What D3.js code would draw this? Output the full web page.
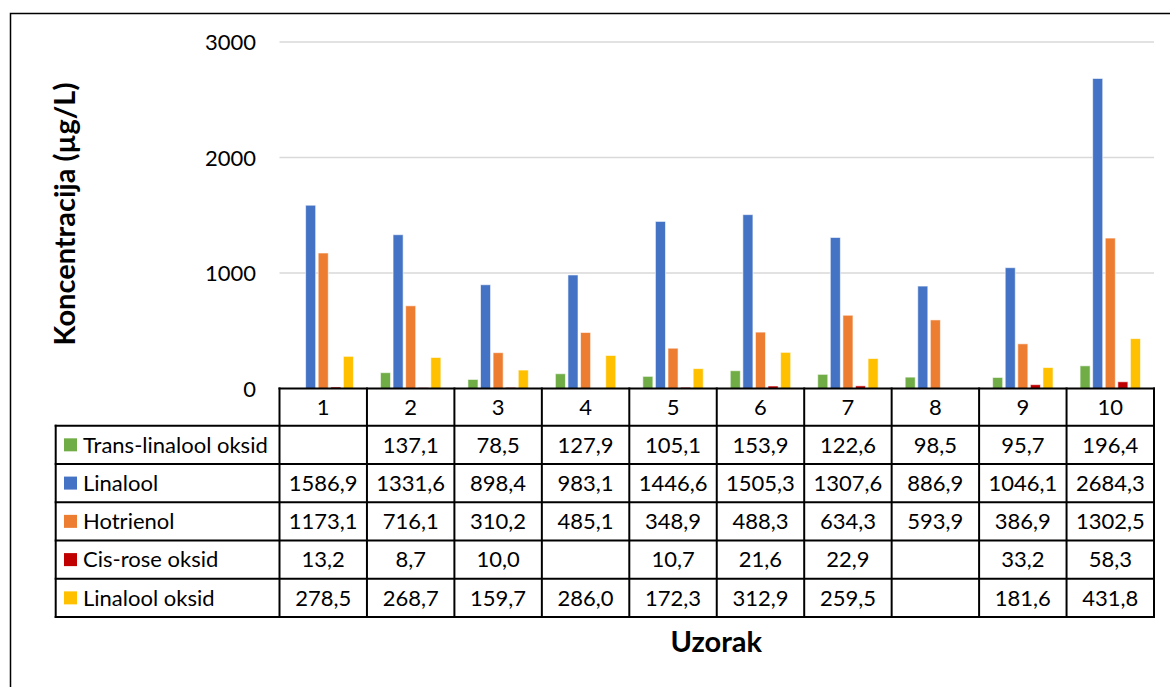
<!DOCTYPE html>
<html>
<head>
<meta charset="utf-8">
<script src="https://cdn.jsdelivr.net/npm/d3@7"></script>
<style>
  body { margin: 0; background: #fff; }
  svg { display: block; font-family: Lato, "Open Sans", sans-serif; }
</style>
</head>
<body>
<script>
// uzorci (kategorije)
var samples = ["1", "2", "3", "4", "5", "6", "7", "8", "9", "10"];
var seriesNames = ["Trans-linalool oksid", "Linalool", "Hotrienol", "Cis-rose oksid", "Linalool oksid"];
var seriesColors = ["#70AD47", "#4472C4", "#ED7D31", "#C00000", "#FFC000"];

var transLinaloolOksid = [null, 137.1, 78.5, 127.9, 105.1, 153.9, 122.6, 98.5, 95.7, 196.4];
var linalool = [1586.9, 1331.6, 898.4, 983.1, 1446.6, 1505.3, 1307.6, 886.9, 1046.1, 2684.3];
var hotrienol = [1173.1, 716.1, 310.2, 485.1, 348.9, 488.3, 634.3, 593.9, 386.9, 1302.5];
var cisRoseOksid = [13.2, 8.7, 10.0, null, 10.7, 21.6, 22.9, null, 33.2, 58.3];
var linaloolOksid = [278.5, 268.7, 159.7, 286.0, 172.3, 312.9, 259.5, null, 181.6, 431.8];

var yTicks = [0, 1000, 2000, 3000];

var seriesValues = [transLinaloolOksid, linalool, hotrienol, cisRoseOksid, linaloolOksid];

var width = 1170, height = 687;
var plotLeft = 279.5, plotRight = 1154, plotTop = 42, plotBottom = 388.5;
var tableLeft = 55.7, headerH = 37.2, rowH = 38.26;
var fontSize = 22;

var svg = d3.select("body").append("svg")
  .attr("width", width)
  .attr("height", height);

// okvir
svg.append("rect")
  .attr("x", 10.5).attr("y", 13.5)
  .attr("width", 1200).attr("height", 700)
  .attr("fill", "none").attr("stroke", "#000").attr("stroke-width", 1.5);

var x = d3.scaleBand().domain(samples).range([plotLeft, plotRight]);
var xInner = d3.scaleBand().domain(seriesNames).range([11, x.bandwidth() - 11]).padding(0.2);
var y = d3.scaleLinear().domain([0, 3000]).range([plotBottom, plotTop]);

// mreza
svg.append("g").selectAll("line")
  .data(yTicks.filter(function(d) { return d > 0; }))
  .enter().append("line")
  .attr("x1", plotLeft).attr("x2", plotRight)
  .attr("y1", function(d) { return y(d); })
  .attr("y2", function(d) { return y(d); })
  .attr("stroke", "#d9d9d9").attr("stroke-width", 1.5);

// y os
var yAxis = svg.append("g")
  .attr("transform", "translate(" + 256 + ",0)")
  .call(d3.axisLeft(y).tickValues(yTicks).tickFormat(d3.format("d")).tickSize(0).tickPadding(0));
yAxis.select(".domain").remove();
yAxis.selectAll("text")
  .attr("font-family", "Lato, sans-serif")
  .attr("font-size", fontSize)
  .attr("fill", "#000")
  .attr("dy", "0.35em");

// stupci
var bars = [];
seriesValues.forEach(function(vals, si) {
  vals.forEach(function(v, i) {
    if (v != null) bars.push({ s: seriesNames[si], c: seriesColors[si], cat: samples[i], v: v });
  });
});

svg.append("g").selectAll("rect")
  .data(bars)
  .enter().append("rect")
  .attr("x", function(d) { return x(d.cat) + xInner(d.s); })
  .attr("y", function(d) { return y(d.v); })
  .attr("width", xInner.bandwidth())
  .attr("height", function(d) { return y(0) - y(d.v); })
  .attr("fill", function(d) { return d.c; })
  .attr("stroke", "#fff").attr("stroke-opacity", 0.6).attr("stroke-width", 1);

// tablica podataka
var table = svg.append("g");
var tableBottom = plotBottom + headerH + rowH * seriesNames.length;

// zaglavlje
table.selectAll(".hdr")
  .data(samples)
  .enter().append("text")
  .attr("x", function(d) { return x(d) + x.bandwidth() / 2; })
  .attr("y", plotBottom + headerH / 2)
  .attr("dy", "0.35em")
  .attr("text-anchor", "middle")
  .attr("font-size", fontSize)
  .text(function(d) { return d; });

var fmt = function(v) { return v == null ? "" : v.toFixed(1).replace(".", ","); };

seriesNames.forEach(function(name, si) {
  var rowY = plotBottom + headerH + rowH * si;
  var cy = rowY + rowH / 2;
  table.append("rect")
    .attr("x", 64).attr("y", cy - 6.5)
    .attr("width", 13).attr("height", 13)
    .attr("fill", seriesColors[si]);
  table.append("text")
    .attr("x", 83).attr("y", cy).attr("dy", "0.35em")
    .attr("font-size", fontSize)
    .text(name);
  table.selectAll(".v" + si)
    .data(seriesValues[si])
    .enter().append("text")
    .attr("x", function(d, i) { return x(samples[i]) + x.bandwidth() / 2; })
    .attr("y", cy).attr("dy", "0.35em")
    .attr("text-anchor", "middle")
    .attr("font-size", fontSize)
    .text(fmt);
});

// linije tablice
var lines = [];
lines.push([plotLeft, plotBottom, plotRight, plotBottom]);
for (var r = 0; r <= seriesNames.length; r++) {
  var ly = plotBottom + headerH + rowH * r;
  lines.push([tableLeft, ly, plotRight, ly]);
}
lines.push([tableLeft, plotBottom + headerH, tableLeft, tableBottom]);
samples.forEach(function(d) { lines.push([x(d), plotBottom, x(d), tableBottom]); });
lines.push([plotRight, plotBottom, plotRight, tableBottom]);

table.selectAll("line")
  .data(lines)
  .enter().append("line")
  .attr("x1", function(d) { return d[0]; })
  .attr("y1", function(d) { return d[1]; })
  .attr("x2", function(d) { return d[2]; })
  .attr("y2", function(d) { return d[3]; })
  .attr("stroke", "#000").attr("stroke-width", 2)
  .attr("stroke-linecap", "square");

// naslovi osi
svg.append("text")
  .attr("transform", "translate(65," + 214 + ") rotate(-90)")
  .attr("dy", "0.35em")
  .attr("text-anchor", "middle")
  .attr("font-size", 29).attr("font-weight", "bold")
  .text("Koncentracija (µg/L)");

svg.append("text")
  .attr("x", (plotLeft + plotRight) / 2 - 0.5)
  .attr("y", 642).attr("dy", "0.35em")
  .attr("text-anchor", "middle")
  .attr("font-size", 29).attr("font-weight", "bold")
  .text("Uzorak");
</script>
</body>
</html>
